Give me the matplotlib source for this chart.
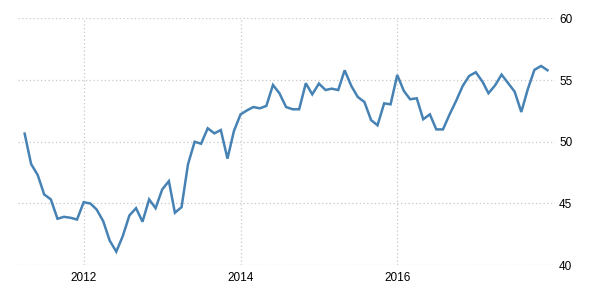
import matplotlib
matplotlib.use("Agg")
import matplotlib.pyplot as plt
import pandas as pd

start_month = "2011-04-01"
values = [
    50.66, 48.2, 47.3, 45.73, 45.33, 43.76, 43.92, 43.84, 43.7,
    45.1, 45.0, 44.52, 43.57, 42.0, 41.1, 42.35, 44.03, 44.62, 43.52, 45.33, 44.62,
    46.14, 46.81, 44.25, 44.7, 48.17, 50.0, 49.84, 51.09, 50.68, 50.95, 48.63, 50.87,
    52.22, 52.55, 52.81, 52.71, 52.9, 54.6, 53.93, 52.81, 52.63, 52.63, 54.74, 53.84,
    54.71, 54.19, 54.3, 54.19, 55.79, 54.52, 53.63, 53.22, 51.76, 51.33, 53.11, 53.03,
    55.41, 54.11, 53.44, 53.52, 51.82, 52.22, 51.0, 51.0, 52.22, 53.3, 54.52, 55.33,
    55.63, 54.87, 53.93, 54.57, 55.44, 54.74, 54.06, 52.41, 54.3, 55.82, 56.14, 55.79,
]
dates = pd.date_range(start_month, periods=len(values), freq="MS")
year_ticks = ["2012", "2014", "2016"]
y_ticks = [40, 45, 50, 55, 60]

plt.rcParams['font.family'] = ['Liberation Sans', 'DejaVu Sans']
fig = plt.figure(figsize=(6, 3), dpi=100)
ax = fig.add_axes([0.03, 0.116, 0.895, 0.823])
ax.plot(dates, values, color="#4682b4", linewidth=1.8, solid_joinstyle="miter")

ax.set_ylim(40, 60)
ax.set_yticks(y_ticks)
ax.set_xlim(pd.Timestamp("2011-03-01"), pd.Timestamp("2018-01-05"))
ax.set_xticks([pd.Timestamp(f"{y}-01-01") for y in year_ticks])
ax.set_xticklabels(year_ticks)
ax.yaxis.tick_right()
ax.tick_params(axis="both", length=0, labelsize=8.5, colors="#000000")
ax.tick_params(axis="y", pad=3)
ax.tick_params(axis="x", pad=5)
ax.grid(True, linestyle=(0, (1, 2)), color="#c8c8c8", linewidth=0.9)
for s in ax.spines.values():
    s.set_visible(False)

fig.savefig("out.png", dpi=100)
